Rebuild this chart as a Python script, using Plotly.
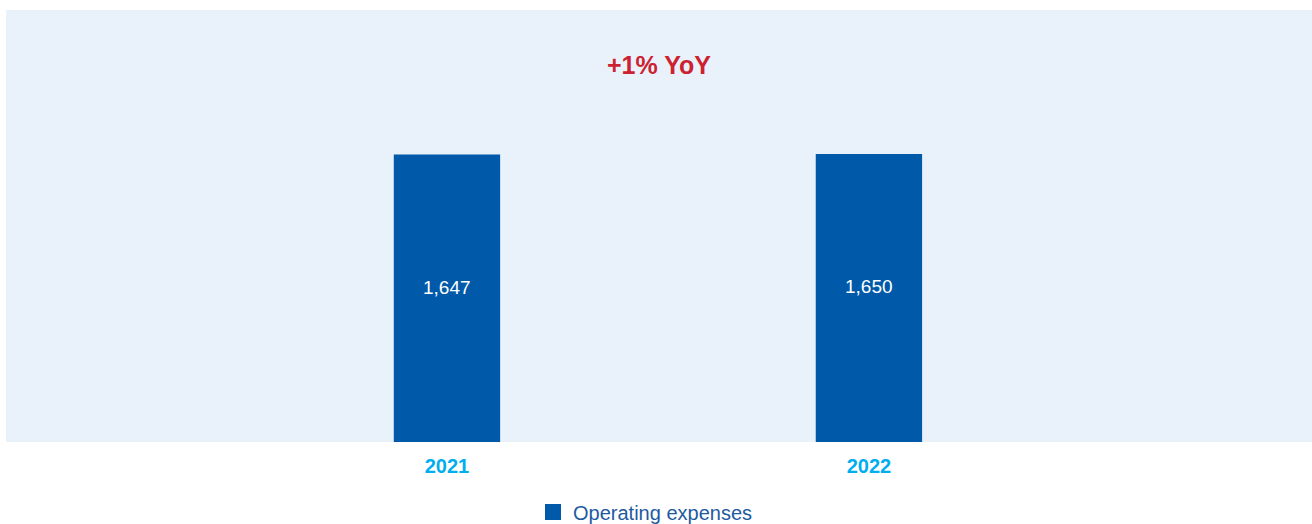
import plotly.graph_objects as go

# Operating expenses by year
years = ["2021", "2022"]
opex = [1647, 1650]
opex_labels = ["1,647", "1,650"]
series_name = "Operating expenses"
headline = "+1% YoY"

BAR_BLUE = "#0059A9"
PANEL_BG = "#E9F1FA"
YEAR_CYAN = "#00AEEF"
HEAD_RED = "#CC2131"
FONT = "Liberation Sans, Arial, sans-serif"

fig = go.Figure()

fig.add_trace(go.Bar(
    x=years,
    y=opex,
    width=0.252,
    marker=dict(color=BAR_BLUE, line=dict(width=0)),
    showlegend=False,
    hoverinfo="x+y",
))

# legend proxy with a larger square swatch
fig.add_trace(go.Scatter(
    x=[None], y=[None],
    mode="markers",
    name=series_name,
    marker=dict(symbol="square", size=18, color=BAR_BLUE),
    showlegend=True,
))

# value labels inside the bars (category index positions)
for i, (val, lab) in enumerate(zip(opex, opex_labels)):
    fig.add_annotation(
        x=i, y=val / 2, text=lab, showarrow=False,
        yshift=11,
        font=dict(family=FONT, size=19, color="white"),
    )

fig.add_annotation(
    x=0.5, y=0.873, xref="paper", yref="paper",
    text=f"<b>{headline}</b>", showarrow=False,
    xanchor="center", yanchor="middle",
    font=dict(family=FONT, size=25, color=HEAD_RED),
)

fig.update_layout(
    width=1312, height=524,
    margin=dict(l=6, r=0, t=10, b=82),
    paper_bgcolor="white",
    plot_bgcolor=PANEL_BG,
    font=dict(family=FONT),
    xaxis=dict(
        type="category",
        range=[-1.045, 2.05],
        showgrid=False, zeroline=False, showline=False,
        ticks="",
        ticklabelstandoff=10,
        tickfont=dict(family=FONT, size=20, color=YEAR_CYAN, weight="bold"),
        fixedrange=True,
    ),
    yaxis=dict(
        range=[0, 2474],
        showgrid=False, zeroline=False, showline=False,
        showticklabels=False, ticks="",
        fixedrange=True,
    ),
    legend=dict(
        orientation="h",
        xref="container", yref="container",
        x=0.492, xanchor="center",
        y=0.023, yanchor="middle",
        font=dict(family=FONT, size=20, color="#1E5AA0"),
        bgcolor="rgba(0,0,0,0)",
        itemclick=False,
    ),
)

fig.write_html("out.html")
